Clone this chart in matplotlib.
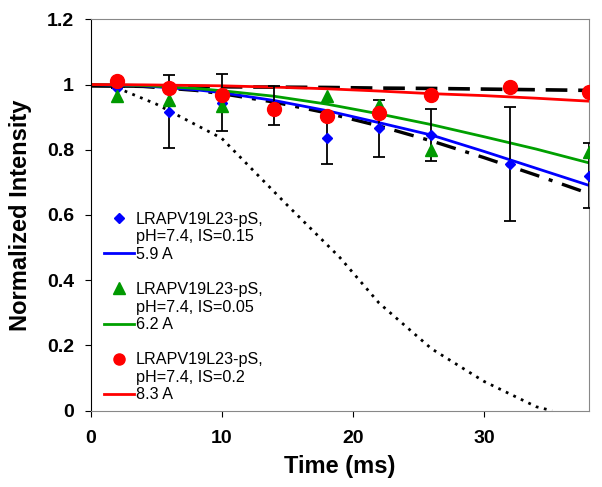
import matplotlib
matplotlib.use("Agg")
import matplotlib.pyplot as plt
from matplotlib.lines import Line2D

plt.rcParams['font.family'] = ['Liberation Sans', 'DejaVu Sans']

# measured points
t_blue = [2, 6, 10, 14, 18, 22, 26, 32, 38]
y_blue = [0.99, 0.917, 0.944, 0.935, 0.836, 0.866, 0.846, 0.757, 0.721]
err_blue = [0.0, 0.113, 0.087, 0.06, 0.08, 0.087, 0.08, 0.175, 0.10]

t_green = [2, 6, 10, 18, 22, 26, 38]
y_green = [0.964, 0.953, 0.933, 0.966, 0.936, 0.798, 0.793]

t_red = [2, 6, 10, 14, 18, 22, 26, 32, 38]
y_red = [1.012, 0.989, 0.968, 0.925, 0.903, 0.912, 0.969, 0.992, 0.977]

# fitted curves
t_fit = [0, 4, 8, 10, 14, 18, 22, 26, 30, 34, 38]
fit_blue = [1.0, 0.996, 0.984, 0.975, 0.951, 0.920, 0.883, 0.845, 0.795, 0.743, 0.691]
fit_green = [1.0, 0.997, 0.988, 0.981, 0.964, 0.940, 0.910, 0.877, 0.840, 0.802, 0.760]
fit_red = [1.0, 0.999, 0.997, 0.996, 0.992, 0.987, 0.980, 0.972, 0.966, 0.958, 0.949]
ref_dash = [0.996, 0.995, 0.994, 0.993, 0.992, 0.991, 0.989, 0.988, 0.986, 0.984, 0.982]
ref_dashdot = [0.997, 0.994, 0.982, 0.972, 0.946, 0.913, 0.873, 0.827, 0.776, 0.722, 0.666]

t_dot = [2, 5, 10, 15, 19, 22, 26, 30, 34, 35.2]
ref_dot = [0.99, 0.94, 0.835, 0.63, 0.47, 0.33, 0.19, 0.09, 0.012, 0.0]

labels_top = ["LRAPV19L23-pS,", "LRAPV19L23-pS,", "LRAPV19L23-pS,"]
labels_mid = ["pH=7.4, IS=0.15", "pH=7.4, IS=0.05", "pH=7.4, IS=0.2"]
labels_fit = ["5.9 A", "6.2 A", "8.3 A"]

fig = plt.figure(figsize=(6.02, 4.87), dpi=100)
ax = fig.add_axes([0.1507, 0.1567, 0.8273, 0.8037])

ax.plot(t_fit, ref_dash, color="black", linestyle=(0, (6, 3)), linewidth=2.6)
ax.plot(t_fit, ref_dashdot, color="black", linestyle=(0, (6, 3, 1.2, 3)), linewidth=2.4)
ax.plot(t_dot, ref_dot, color="black", linestyle=(0, (1, 2)), linewidth=2)
ax.plot(t_fit, fit_blue, color="#0000ff", linewidth=2)
ax.plot(t_fit, fit_green, color="#00a000", linewidth=2)
ax.plot(t_fit, fit_red, color="#ff0000", linewidth=2)

ax.errorbar(t_blue, y_blue, yerr=err_blue, fmt="D", color="#0000ff", markersize=5,
            ecolor="black", elinewidth=1.3, capsize=4, capthick=1.3, zorder=4)
ax.plot(t_green, y_green, "^", color="#009900", markersize=8.5, zorder=5)
ax.plot(t_red, y_red, "o", color="#ff0000", markersize=10, zorder=6)

ax.set_xlim(0, 38)
ax.set_ylim(0, 1.2)
ax.set_xticks([0, 10, 20, 30])
ax.set_yticks([0, 0.2, 0.4, 0.6, 0.8, 1.0, 1.2])
ax.set_yticklabels(["0", "0.2", "0.4", "0.6", "0.8", "1", "1.2"])
ax.tick_params(direction="out", length=4, labelsize=14)
ax.tick_params(axis="y", pad=8)
ax.tick_params(axis="x", pad=10)
for lab in ax.get_xticklabels() + ax.get_yticklabels():
    lab.set_fontweight("bold")
ax.set_xlabel("Time (ms)", fontsize=17, fontweight="bold", labelpad=6)
ax.set_ylabel("Normalized Intensity", fontsize=17, fontweight="bold", labelpad=11)

ax.spines["left"].set_color("black")
for s in ["top", "right", "bottom"]:
    ax.spines[s].set_color("#888888")

# legend: marker row, text row, fit row, spacer
blank = Line2D([], [], linestyle="none", marker="none")
handles = [
    Line2D([], [], linestyle="none", marker="D", color="#0000ff", markersize=5), blank,
    Line2D([], [], color="#0000ff", linewidth=2), blank,
    Line2D([], [], linestyle="none", marker="^", color="#009900", markersize=8), blank,
    Line2D([], [], color="#00a000", linewidth=2), blank,
    Line2D([], [], linestyle="none", marker="o", color="#ff0000", markersize=8), blank,
    Line2D([], [], color="#ff0000", linewidth=2),
]
labels = []
for i in range(3):
    labels += [labels_top[i], labels_mid[i], labels_fit[i]]
    if i < 2:
        labels.append("")
leg = ax.legend(handles, labels, loc="lower left", bbox_to_anchor=(0.0, -0.012),
                frameon=False, fontsize=11.6, labelspacing=0.16, handlelength=1.9,
                handletextpad=0.1, borderaxespad=0.4)

fig.savefig("out.png", dpi=100)
